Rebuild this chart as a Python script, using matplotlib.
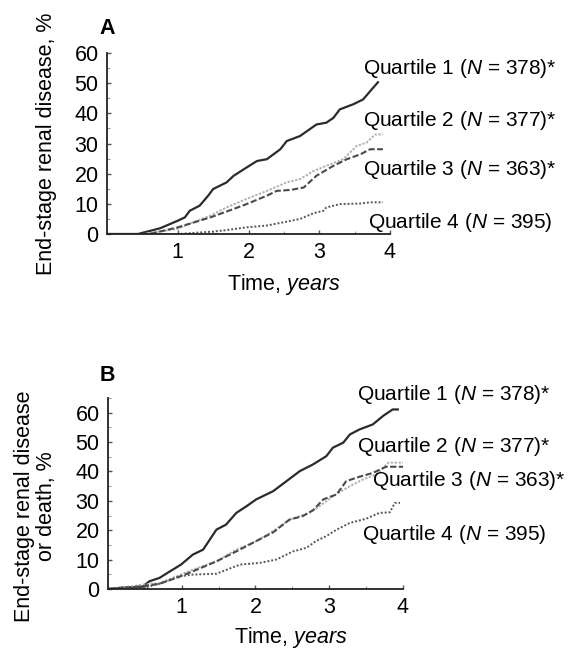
import matplotlib
matplotlib.use("Agg")
import matplotlib.pyplot as plt
from matplotlib.ticker import MultipleLocator

plt.rcParams['font.family'] = ['Liberation Sans', 'DejaVu Sans']
plt.rcParams['mathtext.fontset'] = 'custom'
plt.rcParams['mathtext.rm'] = 'Liberation Sans'
plt.rcParams['mathtext.it'] = 'Liberation Sans:italic'
plt.rcParams['mathtext.bf'] = 'Liberation Sans:bold'

# ---------------- Data ----------------
# Panel A: end-stage renal disease, %
a_q1_t = [0, 0.44, 0.75, 1.0, 1.1, 1.17, 1.31, 1.43, 1.5, 1.69, 1.79, 1.97, 2.12, 2.26, 2.45, 2.54, 2.73, 2.96, 3.1, 3.2, 3.29, 3.48, 3.62, 3.74, 3.83]
a_q1_y = [0, 0.0, 1.9, 4.4, 5.5, 7.7, 9.4, 12.7, 14.9, 17.1, 19.3, 22.0, 24.2, 24.8, 28.1, 30.8, 32.5, 36.3, 36.9, 38.5, 41.3, 43.0, 44.6, 47.9, 50.3]
a_q2_t = [0, 0.51, 1.0, 1.22, 1.46, 1.69, 1.97, 2.26, 2.54, 2.73, 2.92, 3.1, 3.34, 3.53, 3.67, 3.79, 3.9]
a_q2_y = [0, 0.0, 1.7, 3.9, 6.1, 8.8, 11.6, 14.3, 17.1, 18.2, 20.9, 22.6, 24.8, 29.2, 30.3, 33.0, 33.0]
a_q3_t = [0, 0.6, 1.0, 1.46, 1.79, 1.97, 2.26, 2.4, 2.59, 2.78, 2.96, 3.2, 3.39, 3.58, 3.72, 3.9]
a_q3_y = [0, 0.0, 2.2, 5.5, 8.3, 9.9, 12.7, 14.3, 14.6, 15.4, 19.3, 22.6, 24.8, 26.4, 28.1, 28.1]
a_q4_t = [0, 1.0, 1.5, 1.69, 1.97, 2.26, 2.54, 2.73, 2.92, 3.06, 3.1, 3.29, 3.58, 3.72, 3.9]
a_q4_y = [0, 0.0, 0.8, 1.3, 2.2, 2.8, 4.1, 5.0, 6.9, 7.7, 8.8, 9.9, 10.1, 10.5, 10.5]

# Panel B: end-stage renal disease or death, %
b_q1_t = [0, 0.2, 0.47, 0.56, 0.7, 0.84, 0.99, 1.15, 1.29, 1.47, 1.6, 1.74, 1.88, 2.01, 2.24, 2.42, 2.6, 2.78, 2.96, 3.05, 3.19, 3.28, 3.41, 3.59, 3.73, 3.86, 3.93]
b_q1_y = [0, 0.5, 0.8, 2.6, 3.8, 6.0, 8.3, 11.7, 13.4, 20.2, 21.9, 25.9, 28.2, 30.5, 33.3, 36.7, 40.1, 42.4, 45.2, 48.1, 49.8, 52.6, 54.3, 56.0, 58.9, 61.1, 61.1]
b_q2_t = [0, 0.2, 0.47, 0.7, 0.93, 1.15, 1.47, 1.74, 2.01, 2.24, 2.46, 2.73, 2.87, 3.05, 3.28, 3.46, 3.64, 3.8, 4.0]
b_q2_y = [0, 0.5, 1.5, 2.0, 4.3, 6.6, 9.4, 13.4, 16.3, 19.7, 23.6, 25.9, 28.2, 31.6, 35.0, 37.3, 39.0, 43.0, 43.0]
b_q3_t = [0, 0.2, 0.47, 0.7, 0.93, 1.15, 1.47, 1.74, 2.01, 2.24, 2.46, 2.64, 2.78, 2.92, 3.1, 3.23, 3.41, 3.59, 3.77, 4.0]
b_q3_y = [0, 0.4, 0.9, 1.8, 3.8, 6.0, 9.4, 12.8, 16.3, 19.3, 23.6, 24.8, 26.8, 30.5, 32.2, 36.7, 38.2, 39.5, 41.6, 41.6]
b_q4_t = [0, 0.2, 0.47, 0.7, 0.97, 1.15, 1.47, 1.79, 2.06, 2.28, 2.51, 2.69, 2.82, 2.96, 3.1, 3.28, 3.5, 3.68, 3.82, 3.89, 3.96]
b_q4_y = [0, 0.2, 0.3, 1.8, 4.3, 4.9, 5.2, 8.3, 8.9, 10.0, 12.8, 14.0, 16.3, 18.0, 20.2, 22.5, 23.9, 25.9, 26.1, 29.3, 29.3]

quartile_labels = ["Quartile 1 ($N$ = 378)*", "Quartile 2 ($N$ = 377)*",
                   "Quartile 3 ($N$ = 363)*", "Quartile 4 ($N$ = 395)"]
x_ticks = [1, 2, 3, 4]
y_ticks = [0, 10, 20, 30, 40, 50, 60]

# ---------------- Figure ----------------
W, H = 571, 649
fig = plt.figure(figsize=(W / 100, H / 100), dpi=100)

def fx(px):
    return px / W

def fy(py):
    return 1 - py / H

axA = fig.add_axes([fx(107), fy(234), fx(390 - 107), (234 - 53) / H])
axB = fig.add_axes([fx(108), fy(589), fx(403 - 108), (589 - 398) / H])

styles = [
    dict(color='#2b2b2b', lw=1.6, ls='-'),
    dict(color='#b0b0b0', lw=1.4, ls=(0, (1.2, 0.8))),
    dict(color='#4a4a4a', lw=1.5, ls=(0, (3, 1.2))),
    dict(color='#555555', lw=1.4, ls=(0, (1, 1))),
]

series_A = [(a_q1_t, a_q1_y), (a_q2_t, a_q2_y), (a_q3_t, a_q3_y), (a_q4_t, a_q4_y)]
series_B = [(b_q1_t, b_q1_y), (b_q2_t, b_q2_y), (b_q3_t, b_q3_y), (b_q4_t, b_q4_y)]

FS = 15.5
LFS = 15

def style_axes(ax, ytop):
    ax.set_xlim(0, 4)
    ax.set_ylim(0, ytop)
    ax.set_xticks(x_ticks)
    ax.set_yticks(y_ticks)
    ax.xaxis.set_minor_locator(MultipleLocator(0.5))
    ax.yaxis.set_minor_locator(MultipleLocator(5))
    for s in ['top', 'right']:
        ax.spines[s].set_visible(False)
    for s in ['left', 'bottom']:
        ax.spines[s].set_linewidth(1.3)
        ax.spines[s].set_color('#222222')
    ax.tick_params(axis='both', which='major', direction='in', length=3, width=1,
                   colors='#555555', labelcolor='black', labelsize=FS, pad=6)
    ax.tick_params(axis='both', which='minor', direction='in', length=2, width=0.8,
                   colors='#999999')

for ax, series in [(axA, series_A), (axB, series_B)]:
    for (t, y), st in zip(series, styles):
        ax.plot(t, y, **st)

style_axes(axA, 60)
style_axes(axB, 65)

axA.set_ylabel("End-stage renal disease, %", fontsize=FS)
axA.yaxis.set_label_coords((57 - 107) / 283, 0.5)
axA.set_xlabel("Time, $\\it{years}$", fontsize=FS)
axA.xaxis.set_label_coords(0.625, (234 - 272) / 181)

axB.set_ylabel("End-stage renal disease\nor death, %", fontsize=FS, linespacing=1.05)
axB.yaxis.set_label_coords((57 - 108) / 295, (589 - 506) / 191)
axB.set_xlabel("Time, $\\it{years}$", fontsize=FS)
axB.xaxis.set_label_coords(0.62, (589 - 625) / 191)

fig.text(fx(107), fy(29), "A", fontsize=FS, fontweight='bold', ha='center', va='center')
fig.text(fx(107), fy(375), "B", fontsize=FS, fontweight='bold', ha='center', va='center')

posA = [(363, 68), (363, 120), (363, 170), (368, 222)]
posB = [(357, 395), (357, 447), (372, 480), (362, 535)]
for lab, (px, py) in zip(quartile_labels, posA):
    fig.text(fx(px), fy(py), lab, fontsize=LFS, ha='left', va='center')
for lab, (px, py) in zip(quartile_labels, posB):
    fig.text(fx(px), fy(py), lab, fontsize=LFS, ha='left', va='center')

fig.savefig("out.png", dpi=100)
